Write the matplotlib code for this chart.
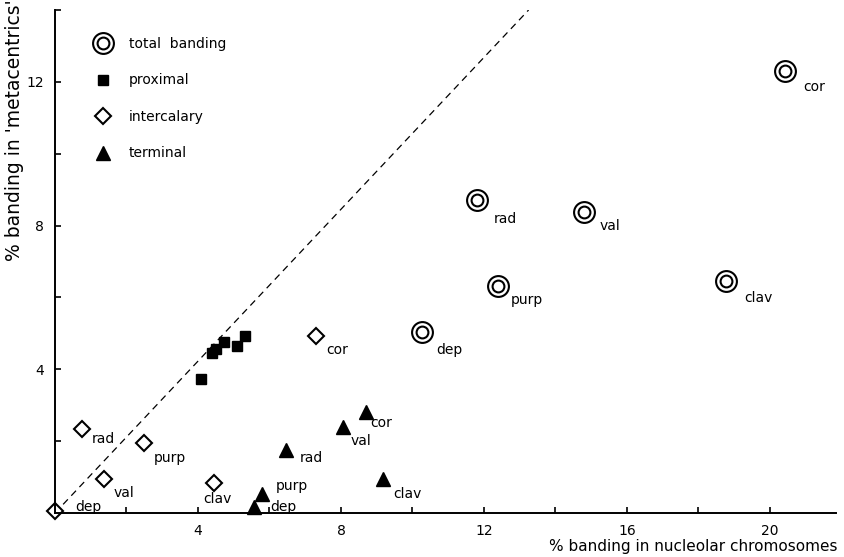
import matplotlib
matplotlib.use('Agg')
import matplotlib.pyplot as plt
from matplotlib.lines import Line2D
from matplotlib.legend_handler import HandlerTuple

plt.rcParams['font.family'] = ['DejaVu Sans']

# total banding
total_names = ['cor', 'rad', 'val', 'purp', 'dep', 'clav']
total_x = [20.42, 11.80, 14.80, 12.39, 10.27, 18.77]
total_y = [12.30, 8.72, 8.39, 6.33, 5.03, 6.47]

# proximal
prox_x = [4.08, 4.38, 4.50, 4.73, 5.08, 5.31]
prox_y = [3.74, 4.45, 4.56, 4.75, 4.64, 4.94]

# intercalary
inter_names = ['cor', 'rad', 'purp', 'val', 'clav', 'dep']
inter_x = [7.29, 0.76, 2.48, 1.38, 4.44, 0.0]
inter_y = [4.93, 2.33, 1.94, 0.95, 0.84, 0.05]

# terminal
term_names = ['cor', 'val', 'rad', 'clav', 'purp', 'dep']
term_x = [8.69, 8.06, 6.46, 9.17, 5.78, 5.57]
term_y = [2.81, 2.40, 1.75, 0.94, 0.52, 0.16]

# label offsets (pixels right, pixels down)
total_off = [(18, 16), (17, 19), (16, 14), (13, 14), (14, 18), (18, 17)]
inter_off = [(11, 14), (10, 10), (10, 15), (9, 14), (-10, 16), (20, -4)]
term_off = [(5, 11), (7, 14), (14, 8), (10, 15), (14, -8), (16, 0)]

W, H = 845, 557
fig = plt.figure(figsize=(W / 100, H / 100), dpi=100)
ax = fig.add_axes([55 / W, 1 - 513 / H, (836 - 55) / W, (513 - 10) / H])
ax.set_xlim(0, 21.85)
ax.set_ylim(0, 14)

for s in ['top', 'right']:
    ax.spines[s].set_visible(False)
for s in ['left', 'bottom']:
    ax.spines[s].set_linewidth(1.4)

ax.set_xticks([4, 8, 12, 16, 20])
ax.set_xticks([2, 6, 10, 14, 18], minor=True)
ax.set_yticks([4, 8, 12])
ax.set_yticks([2, 6, 10, 14], minor=True)
ax.tick_params(which='both', direction='in', length=4, width=1.2, labelsize=10, pad=8)

# diagonal reference
ax.plot([0, 13.25], [0, 14], color='k', lw=0.9, dashes=(5.5, 4))

kw = dict(ls='none', color='k', clip_on=False)
ax.plot(total_x, total_y, marker='o', ms=15, mfc='white', mec='k', mew=1.5, **kw)
ax.plot(total_x, total_y, marker='o', ms=8.5, mfc='none', mec='k', mew=1.5, **kw)
ax.plot(prox_x, prox_y, marker='s', ms=6.5, **kw)
ax.plot(inter_x, inter_y, marker='D', ms=8.5, mfc='white', mec='k', mew=1.5, **kw)
ax.plot(term_x, term_y, marker='^', ms=10, **kw)

def put_labels(xs, ys, names, offs):
    for x, y, n, (dx, dy) in zip(xs, ys, names, offs):
        ax.annotate(n, (x, y), xytext=(dx, -dy), textcoords='offset pixels',
                    ha='left', va='center', fontsize=10)

put_labels(total_x, total_y, total_names, total_off)
put_labels(inter_x, inter_y, inter_names, inter_off)
put_labels(term_x, term_y, term_names, term_off)

h_total = (Line2D([], [], ls='none', marker='o', ms=15, mfc='white', mec='k', mew=1.5),
           Line2D([], [], ls='none', marker='o', ms=8.5, mfc='none', mec='k', mew=1.5))
h_prox = Line2D([], [], ls='none', marker='s', ms=6.5, color='k')
h_inter = Line2D([], [], ls='none', marker='D', ms=8.5, mfc='white', mec='k', mew=1.5)
h_term = Line2D([], [], ls='none', marker='^', ms=10, color='k')
ax.legend([h_total, h_prox, h_inter, h_term],
          ['total  banding', 'proximal', 'intercalary', 'terminal'],
          handler_map={tuple: HandlerTuple(ndivide=1)},
          loc='upper left', bbox_to_anchor=(86 / W, 1 - 30 / H),
          bbox_transform=fig.transFigure, frameon=False, fontsize=10,
          handlelength=1.4, handletextpad=1.2, labelspacing=1.62, borderpad=0)

fig.text(15 / W, 1 + 1 / H, "% banding in 'metacentrics'", rotation=90,
         ha='center', va='top', fontsize=13.5)
fig.text(838 / W, 1 - 547 / H, '% banding in nucleolar chromosomes',
         ha='right', va='center', fontsize=11)

fig.savefig('out.png', dpi=100)
